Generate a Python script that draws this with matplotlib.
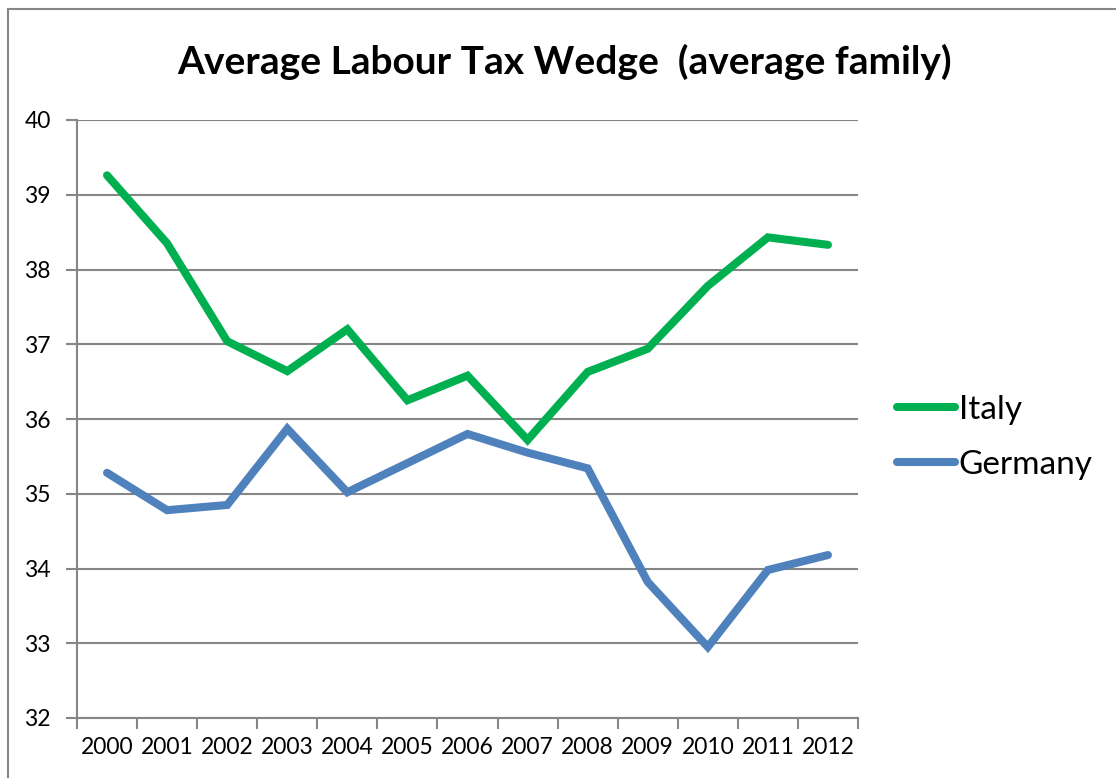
import matplotlib
matplotlib.use("Agg")
import matplotlib.pyplot as plt
from matplotlib.lines import Line2D

years = ["2000", "2001", "2002", "2003", "2004", "2005", "2006",
         "2007", "2008", "2009", "2010", "2011", "2012"]
italy = [39.26, 38.35, 37.04, 36.64, 37.20, 36.25, 36.58,
         35.72, 36.63, 36.94, 37.78, 38.43, 38.33]
germany = [35.28, 34.78, 34.85, 35.87, 35.02, 35.41, 35.80,
           35.55, 35.34, 33.82, 32.95, 33.98, 34.18]
yticks = [32, 33, 34, 35, 36, 37, 38, 39, 40]

plt.rcParams['font.family'] = ['Lato', 'DejaVu Sans']

GREEN = "#00B050"
BLUE = "#4F81BD"
GRID = "#868686"

fig = plt.figure(figsize=(11.16, 7.78), dpi=100)
fig.patch.set_facecolor("white")

# chart-area border (top and left edges)
fig.add_artist(Line2D([8/1116, 1.0], [1 - 9/778, 1 - 9/778],
                      transform=fig.transFigure, color=GRID, lw=1.5))
fig.add_artist(Line2D([8/1116, 8/1116], [0.0, 1 - 9/778],
                      transform=fig.transFigure, color=GRID, lw=1.5))

ax = fig.add_axes([77/1116, 1 - 718/778, (858 - 77)/1116, (718 - 120)/778])

x = list(range(len(years)))
ax.plot(x, italy, color=GREEN, lw=5.8, solid_capstyle="round",
        solid_joinstyle="miter", label="Italy", zorder=3)
ax.plot(x, germany, color=BLUE, lw=5.8, solid_capstyle="round",
        solid_joinstyle="miter", label="Germany", zorder=3)

ax.set_xlim(-0.5, len(years) - 0.5)
ax.set_ylim(32, 40)
ax.set_yticks(yticks)
ax.set_yticklabels([str(v) for v in yticks], fontsize=16.5)
ax.yaxis.grid(True, color=GRID, lw=1.5)
ax.set_axisbelow(True)

# category boundaries carry the tick marks, labels sit at category centres
ax.set_xticks([i - 0.5 for i in range(len(years) + 1)])
ax.set_xticklabels([])
ax.set_xticks(x, minor=True)
ax.set_xticklabels(years, minor=True, fontsize=16.5)
ax.tick_params(axis="x", which="major", length=8, width=1.5, color=GRID,
               direction="out")
ax.tick_params(axis="x", which="minor", length=0, pad=14)
ax.tick_params(axis="y", length=8, width=1.5, color=GRID, direction="out", pad=11)

for side in ("top", "right"):
    ax.spines[side].set_visible(False)
for side in ("left", "bottom"):
    ax.spines[side].set_color(GRID)
    ax.spines[side].set_linewidth(1.5)

fig.text(565/1116, 1 - 62/778, "Average Labour Tax Wedge  (average family)",
         ha="center", va="center", fontsize=28, fontweight="bold")

leg = ax.legend(loc="center left", bbox_to_anchor=(897/1116, 1 - 437/778),
                bbox_transform=fig.transFigure, frameon=False, fontsize=24,
                handlelength=1.75, handletextpad=0.1, labelspacing=0.75,
                borderpad=0, borderaxespad=0)

fig.savefig("out.png", dpi=100, facecolor="white")
